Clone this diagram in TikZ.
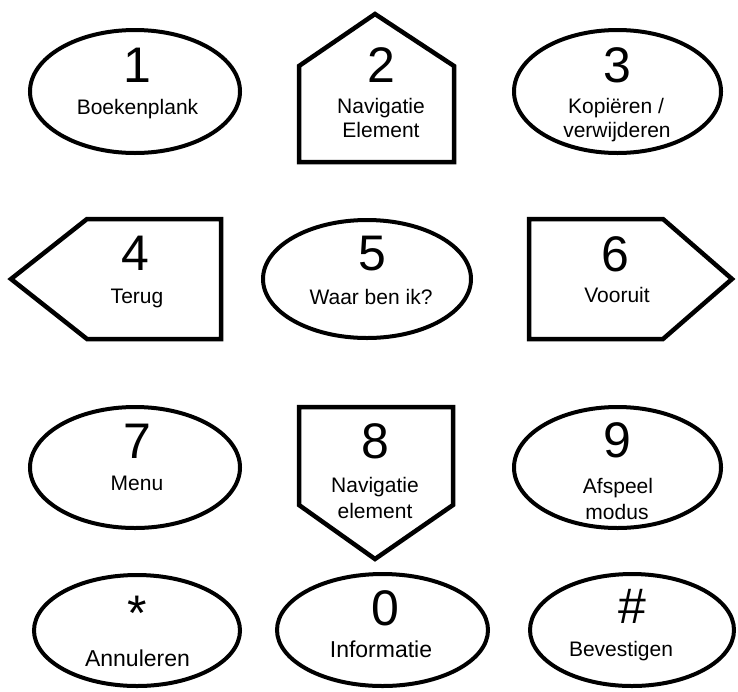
\documentclass[tikz,border=0pt]{standalone}
\usepackage{fontspec}
\setmainfont{Liberation Sans}
\usetikzlibrary{shapes.geometric}
\begin{document}
\begin{tikzpicture}[x=1pt,y=-1pt,
  oval/.style={ellipse,draw=black,line width=4pt,inner sep=0pt,outer sep=0pt},
  plate/.style={draw=black,line width=4.5pt,line join=miter},
  dig/.style={anchor=base,inner sep=0pt,font=\fontsize{50}{60}\selectfont},
  lab/.style={anchor=base,inner sep=0pt,font=\fontsize{21}{25}\selectfont},
  labbig/.style={anchor=base,inner sep=0pt,font=\fontsize{23}{27}\selectfont}]
\useasboundingbox (0,0) rectangle (738,691);
% ---- shapes
\node[oval,minimum width=210pt,minimum height=123pt] (e1) at (135,91.5) {};
\draw[plate] (299,66) coordinate (p2a) -- (375,14) coordinate (p2b) -- (454,66) -- (454,162) -- (299,162) -- cycle;
\node[oval,minimum width=207pt,minimum height=123pt] (e3) at (617.5,91.5) {};
\draw[plate] (11,279) coordinate (p4a) -- (87,219) -- (221,219) -- (221,339) -- (87,339) -- cycle;
\node[oval,minimum width=208pt,minimum height=118pt] (e5) at (367,279) {};
\draw[plate] (529,219) coordinate (p6a) -- (663,219) -- (732,279) -- (663,339) -- (529,339) -- cycle;
\node[oval,minimum width=210pt,minimum height=121pt] (e7) at (135,467.5) {};
\draw[plate] (299,407) coordinate (p8a) -- (453,407) -- (453,505) -- (375,559) -- (299,505) -- cycle;
\node[oval,minimum width=207pt,minimum height=121pt] (e9) at (617.5,467.5) {};
\node[oval,minimum width=206pt,minimum height=111pt] (estar) at (137,630.5) {};
\node[oval,minimum width=211pt,minimum height=112pt] (e0) at (382.5,630) {};
\node[oval,minimum width=204pt,minimum height=112pt] (ehash) at (632,630) {};
% ---- texts
\node[dig] (d1) at (137,82.5) {1};
\node[lab] (t1) at (137.5,114) {Boekenplank};
\node[dig] (d2) at (381,82.5) {2};
\node[lab] (t2a) at (381,113) {Navigatie};
\node[lab] (t2b) at (381,137) {Element};
\node[dig] (d3) at (617,82.5) {3};
\node[lab] (t3a) at (616,113) {Kopiëren /};
\node[lab] (t3b) at (617,137) {verwijderen};
\node[dig] (d4) at (135,270) {4};
\node[lab] (t4) at (137,303) {Terug};
\node[dig] (d5) at (372,270) {5};
\node[lab] (t5) at (371,304) {Waar ben ik?};
\node[dig] (d6) at (615,271) {6};
\node[lab] (t6) at (617,302) {Vooruit};
\node[dig] (d7) at (137,458) {7};
\node[lab] (t7) at (137,490) {Menu};
\node[dig] (d8) at (375,458) {8};
\node[lab] (t8a) at (375,492) {Navigatie};
\node[lab] (t8b) at (375,518) {element};
\node[dig] (d9) at (617,457) {9};
\node[lab] (t9a) at (618,493) {Afspeel};
\node[lab] (t9b) at (617,519) {modus};
\node[dig] (dstar) at (137,630) {*};
\node[labbig] (tstar) at (137.5,666) {Annuleren};
\node[dig] (d0) at (385,625) {0};
\node[labbig] (t0) at (381,657) {Informatie};
\node[dig] (dhash) at (632,623.5) {\#};
\node[lab] (thash) at (621,656) {Bevestigen};
\end{tikzpicture}
\end{document}
